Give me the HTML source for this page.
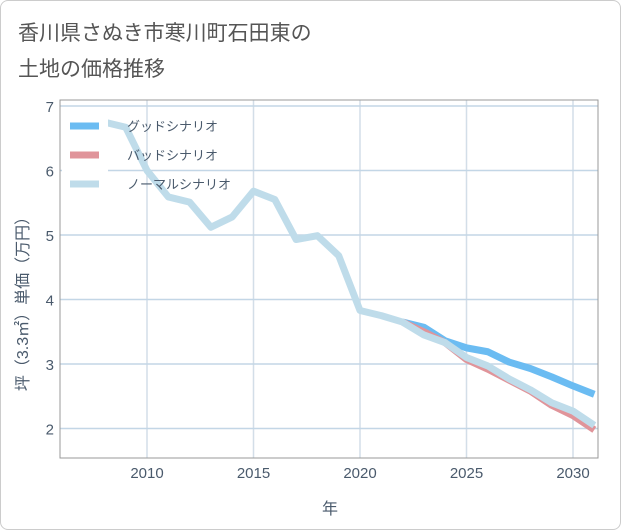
<!DOCTYPE html>
<html><head><meta charset="utf-8"><style>
body{margin:0;background:#fff;}
.card{position:absolute;left:0;top:0;width:619px;height:528px;border:1px solid #ccc;border-radius:8px;background:#fff;}
.t{font-family:"Liberation Sans","Noto Sans CJK JP",sans-serif;}
</style></head><body>
<div class="card"></div>
<svg width="621" height="530" style="position:absolute;left:0;top:0">
<text class="t" x="18" y="40" font-size="21" fill="#555">香川県さぬき市寒川町石田東の</text>
<text class="t" x="18" y="76" font-size="21" fill="#555">土地の価格推移</text>
<defs><clipPath id="pc"><rect x="60" y="100" width="538" height="358"/></clipPath></defs>
<g id="grid"></g>
<g id="lines" clip-path="url(#pc)"></g>
<rect x="60" y="100" width="538" height="358" fill="none" stroke="#999"/>
<g id="ticks"></g>
<text class="t" x="330" y="514" font-size="16" fill="#4a5a6c" text-anchor="middle">年</text>
<text class="t" transform="translate(28,300) rotate(-90)" font-size="16" fill="#4a5a6c" text-anchor="middle">坪（3.3㎡）単価（万円）</text>
<g id="legend"></g>
</svg>
<script>
const years=[2008,2009,2010,2011,2012,2013,2014,2015,2016,2017,2018,2019,2020,2021,2022,2023,2024,2025,2026,2027,2028,2029,2030,2031];
const normal=[6.75,6.67,6.0,5.59,5.51,5.12,5.28,5.68,5.55,4.93,4.99,4.68,3.83,3.75,3.65,3.45,3.33,3.1,2.97,2.77,2.6,2.4,2.27,2.05];
const fYears=[2022,2023,2024,2025,2026,2027,2028,2029,2030,2031];
const good=[3.65,3.57,3.36,3.25,3.19,3.03,2.93,2.8,2.66,2.53];
const bad=[3.65,3.5,3.33,3.07,2.92,2.75,2.58,2.36,2.2,1.98];
const xTicks=[2010,2015,2020,2025,2030];
const yTicks=[2,3,4,5,6,7];
const seriesNames=["グッドシナリオ","バッドシナリオ","ノーマルシナリオ"];
const NS="http://www.w3.org/2000/svg";
const X=v=>147+(v-2010)*21.3;
const Y=v=>106+(7-v)*64.5;
function mk(t,a,p){const e=document.createElementNS(NS,t);for(const k in a)e.setAttribute(k,a[k]);document.getElementById(p).appendChild(e);return e;}
xTicks.forEach(v=>{
 const l=mk('line',{x1:X(v),x2:X(v),y1:100,y2:458,stroke:'#d3dee8','stroke-width':1.5},'grid');
 
 
 const t=mk('text',{x:X(v),y:478,'font-size':15,fill:'#4a5a6c','text-anchor':'middle',class:'t'},'ticks');t.textContent=v;
 
 
});
yTicks.forEach(v=>{
 const l=mk('line',{x1:60,x2:598,y1:Y(v),y2:Y(v),stroke:'#c3d6e6','stroke-width':1.5},'grid');
 
 
 const t=mk('text',{x:54,y:Y(v)+6,'font-size':15,fill:'#4a5a6c','text-anchor':'end',class:'t'},'ticks');t.textContent=v;
 
 
});
function line(xs,ys,c,n){
 const p=mk('polyline',{points:xs.map((x,i)=>X(x)+','+Y(ys[i])).join(' '),fill:'none',stroke:c,'stroke-width':7,'stroke-linejoin':'round'},'lines');
 
 
}
line(fYears,good,'#6bbcf2','good-scenario-line');
line(fYears,bad,'#e0949a','bad-scenario-line');
line(years,normal,'#bfdcea','normal-scenario-line');
const cols=['#6bbcf2','#e0949a','#bfdcea'];
mk('rect',{x:62,y:112,width:46,height:82,fill:'#fff'},'legend');
seriesNames.forEach((s,i)=>{
 const y=126+i*29;
 const l=mk('line',{x1:70,x2:99,y1:y,y2:y,stroke:cols[i],'stroke-width':7},'legend');
 
 
 const t=mk('text',{x:127,y:y+5,'font-size':13,fill:'#4a5a6c',class:'t'},'legend');t.textContent=s;
 
 
});
</script>
</body></html>
